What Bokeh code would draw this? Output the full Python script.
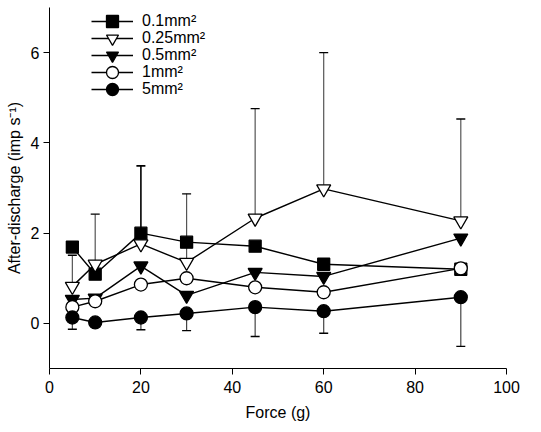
from bokeh.plotting import figure
from bokeh.models import ColumnDataSource, Whisker, TeeHead, Legend, LegendItem, Range1d, FixedTicker
from bokeh.embed import file_html
from bokeh.resources import INLINE

force = [5, 10, 20, 30, 45, 60, 90]
s01 = [1.69, 1.09, 2.00, 1.80, 1.71, 1.31, 1.20]
s025 = [0.82, 1.31, 1.76, 1.35, 2.33, 2.98, 2.27]
s05 = [0.53, 0.56, 1.27, 0.62, 1.13, 1.04, 1.89]
s1 = [0.36, 0.49, 0.86, 1.00, 0.80, 0.69, 1.22]
s5 = [0.13, 0.02, 0.13, 0.22, 0.36, 0.27, 0.58]

# visible error bars
err01_x = [20]
err01_up = [1.49]
err025_x = [5, 10, 30, 45, 60, 90]
err025_up = [0.69, 1.11, 1.52, 2.43, 3.02, 2.26]
err5_x = [5, 20, 30, 45, 60, 90]
err5_down = [0.26, 0.27, 0.38, 0.65, 0.49, 1.09]

labels = ["0.1mm\u00b2", "0.25mm\u00b2", "0.5mm\u00b2", "1mm\u00b2", "5mm\u00b2"]

FONT = "Liberation Sans"

p = figure(width=541, height=432, output_backend="svg", toolbar_location=None,
           x_range=Range1d(0, 100), y_range=Range1d(-1, 7),
           min_border_left=49, min_border_right=35, min_border_top=7, min_border_bottom=64)
p.outline_line_color = None
p.xgrid.grid_line_color = None
p.ygrid.grid_line_color = None

for ax in (p.xaxis[0], p.yaxis[0]):
    ax.major_tick_in = 0
    ax.major_tick_out = 6
    ax.minor_tick_out = 0
    ax.minor_tick_in = 0
    ax.axis_line_color = "black"
    ax.major_tick_line_color = "black"
    ax.major_label_text_font = FONT
    ax.major_label_text_font_size = "16px"
    ax.major_label_text_color = "black"
    ax.axis_label_text_font = FONT
    ax.axis_label_text_font_size = "16px"
    ax.axis_label_text_font_style = "normal"
    ax.axis_label_text_color = "black"

p.xaxis.ticker = FixedTicker(ticks=[0, 20, 40, 60, 80, 100])
p.yaxis.ticker = FixedTicker(ticks=[0, 2, 4, 6])
p.xaxis.axis_label = "Force (g)"
p.yaxis.axis_label = "After-discharge (imp s\u207b\u00b9)"
p.xaxis.major_label_standoff = 6
p.xaxis.axis_label_standoff = 8
p.yaxis.major_label_standoff = 4
p.yaxis.axis_label_standoff = 5

# error bars
src01 = ColumnDataSource(dict(x=err01_x, base=[s01[force.index(v)] for v in err01_x],
                              up=[s01[force.index(v)] + e for v, e in zip(err01_x, err01_up)]))
w1 = Whisker(source=src01, base="x", upper="up", lower="base", dimension="height",
             line_color="black", line_width=1.6,
             upper_head=TeeHead(size=9, line_color="black", line_width=1.6), lower_head=None)
p.add_layout(w1)

src025 = ColumnDataSource(dict(x=err025_x, base=[s025[force.index(v)] for v in err025_x],
                               up=[s025[force.index(v)] + e for v, e in zip(err025_x, err025_up)]))
w2 = Whisker(source=src025, base="x", upper="up", lower="base", dimension="height",
             line_color="#555555", line_width=1.2,
             upper_head=TeeHead(size=9, line_color="black", line_width=1.4), lower_head=None)
p.add_layout(w2)

src5 = ColumnDataSource(dict(x=err5_x, base=[s5[force.index(v)] for v in err5_x],
                             lo=[s5[force.index(v)] - e for v, e in zip(err5_x, err5_down)]))
w3 = Whisker(source=src5, base="x", upper="base", lower="lo", dimension="height",
             line_color="#444444", line_width=1.2,
             lower_head=TeeHead(size=9, line_color="black", line_width=1.4), upper_head=None)
p.add_layout(w3)

series = [
    (s01, "square", "black", 12),
    (s025, "inverted_triangle", "white", 14),
    (s05, "inverted_triangle", "black", 14),
    (s1, "circle", "white", 13),
    (s5, "circle", "black", 13),
]

ROW = 17
for i, ((vals, marker, fill, size), lab) in enumerate(zip(series, labels)):
    src = ColumnDataSource(dict(x=force, y=vals))
    lr = p.line("x", "y", source=src, line_color="black", line_width=1.4)
    sr = p.scatter("x", "y", source=src, marker=marker, size=size,
                   fill_color=fill, line_color="black", line_width=1.3)
    leg = Legend(items=[LegendItem(label=lab, renderers=[lr, sr])],
                 location=(42, 332 - ROW * i), orientation="vertical",
                 padding=0, spacing=0, margin=0, glyph_width=42, glyph_height=30,
                 label_height=30, label_standoff=9,
                 label_text_font=FONT, label_text_font_size="16px",
                 label_text_color="black",
                 border_line_color=None, background_fill_alpha=0)
    p.add_layout(leg, "center")

open("out.html", "w").write(file_html(p, INLINE))
